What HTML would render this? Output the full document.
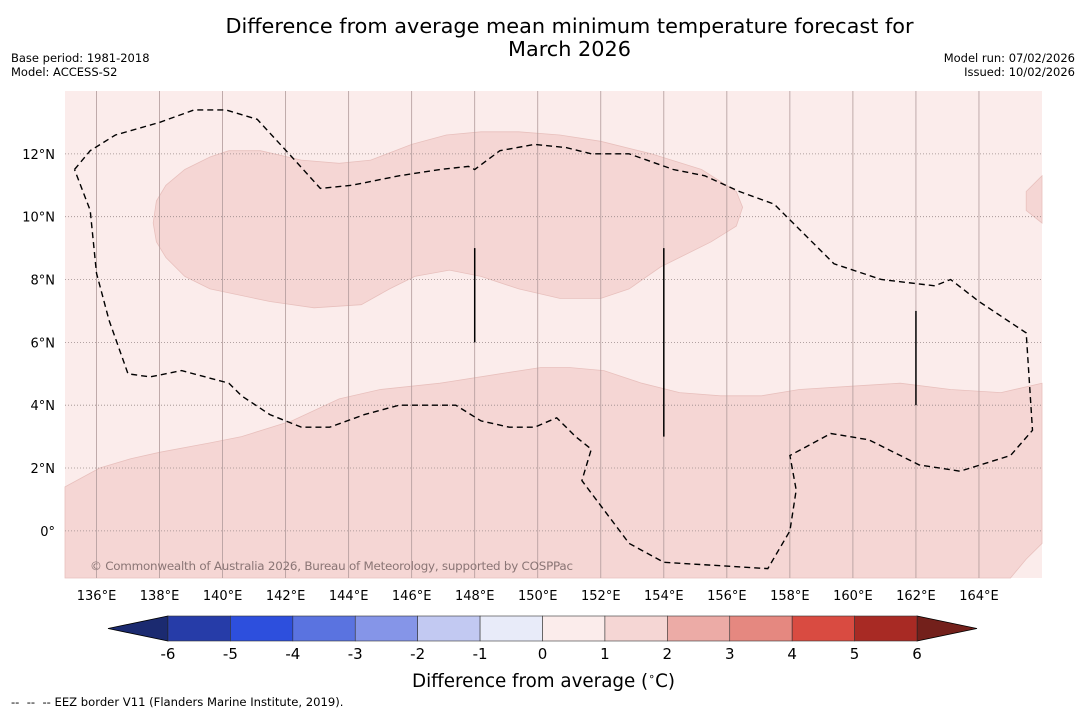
<!DOCTYPE html>
<html><head><meta charset="utf-8"><style>
body{margin:0;background:#fff;width:1085px;height:713px;overflow:hidden;font-family:"DejaVu Sans","Liberation Sans",sans-serif}
svg text{font-family:"DejaVu Sans","Liberation Sans",sans-serif}
</style></head><body>
<svg id="c" width="1085" height="713"></svg>
<script>
const lonTicks=[136,138,140,142,144,146,148,150,152,154,156,158,160,162,164];
const latTicks=[0,2,4,6,8,10,12];
const cbLevels=[-6,-5,-4,-3,-2,-1,0,1,2,3,4,5,6];
const cbColors=["#263ca8","#2d4fdd","#5a73e0","#8595e8","#c2c9f2","#e8ebf9","#fbeceb","#f5d6d4","#ecaba6","#e58880","#d94b41","#a82a24"];
const upperBlob=[[137.9,10.5],[138.2,11.0],[138.8,11.5],[139.6,11.9],[140.2,12.1],[141.2,12.1],[142.5,11.8],[143.7,11.7],[144.7,11.8],[146.0,12.3],[147.1,12.6],[148.2,12.7],[149.4,12.7],[150.7,12.6],[152.0,12.4],[153.6,12.0],[155.2,11.5],[156.3,10.8],[156.5,10.3],[156.3,9.7],[155.5,9.2],[153.9,8.4],[152.9,7.7],[152.0,7.4],[150.7,7.4],[149.4,7.7],[148.2,8.1],[147.2,8.3],[146.1,8.1],[145.3,7.7],[144.4,7.2],[142.9,7.1],[141.5,7.3],[139.6,7.7],[138.8,8.1],[138.2,8.7],[137.9,9.2],[137.8,9.8]];
const lowerRegion=[[135.0,1.4],[136.1,2.0],[137.1,2.3],[138.0,2.5],[139.6,2.8],[140.6,3.0],[142.2,3.5],[143.7,4.2],[145.0,4.5],[146.9,4.7],[148.8,5.0],[150.1,5.2],[151.0,5.2],[152.1,5.1],[153.3,4.7],[154.5,4.4],[155.8,4.3],[157.1,4.3],[158.3,4.5],[159.9,4.6],[161.5,4.7],[163.1,4.5],[164.7,4.4],[166,4.7],[166,-0.4],[165.5,-0.9],[165.0,-1.5],[135,-1.5]];
const rightBlob=[[166,11.3],[165.5,10.8],[165.5,10.2],[166,9.8]];
const eez=[[135.3,11.5],[135.8,12.1],[136.6,12.6],[138.0,13.0],[139.1,13.4],[140.1,13.4],[141.1,13.1],[142.2,11.9],[143.1,10.9],[144.1,11.0],[145.6,11.3],[146.9,11.5],[147.8,11.6],[148.0,11.5],[148.8,12.1],[149.9,12.3],[150.9,12.2],[151.7,12.0],[152.9,12.0],[154.3,11.5],[155.3,11.3],[156.4,10.8],[157.5,10.4],[158.3,9.6],[159.4,8.5],[160.9,8.0],[162.6,7.8],[163.1,8.0],[164.0,7.3],[165.5,6.3],[165.7,3.2],[165.0,2.4],[163.4,1.9],[162.1,2.1],[160.9,2.7],[160.5,2.9],[159.3,3.1],[158.0,2.4],[158.2,1.3],[158.0,0.0],[157.3,-1.2],[154.0,-1.0],[152.9,-0.4],[151.4,1.6],[151.7,2.6],[151.2,3.0],[150.6,3.6],[149.9,3.3],[149.1,3.3],[148.2,3.5],[147.4,4.0],[145.6,4.0],[144.5,3.7],[143.4,3.3],[142.5,3.3],[141.5,3.7],[140.6,4.3],[140.2,4.7],[138.7,5.1],[137.7,4.9],[137.0,5.0],[136.4,6.7],[136.0,8.2],[135.8,10.2],[135.3,11.5]];
const boundaries=[[148,6,9],[154,3,9],[162,4,7]];

const svg=document.getElementById('c');const NS='http://www.w3.org/2000/svg';
function mk(t,a,p){const e=document.createElementNS(NS,t);for(const k in a)e.setAttribute(k,a[k]);(p||svg).appendChild(e);return e;}
const X0=65,X1=1042,Y0=91,Y1=578,LON0=135,LON1=166,LAT0=-1.5,LAT1=14;
const x=l=>X0+(l-LON0)/(LON1-LON0)*(X1-X0);
const y=l=>Y1-(l-LAT0)/(LAT1-LAT0)*(Y1-Y0);
const pts=a=>a.map(p=>x(p[0]).toFixed(1)+','+y(p[1]).toFixed(1)).join(' ');
let e;
e=mk('rect',{x:X0,y:Y0,width:X1-X0,height:Y1-Y0,fill:cbColors[6]});

[[upperBlob,'anomaly-1-2-north'],[lowerRegion,'anomaly-1-2-south'],[rightBlob,'anomaly-1-2-east']].forEach(([d,n])=>{
 const p=mk('polygon',{points:pts(d),fill:cbColors[7],stroke:'#e8c0bd','stroke-width':0.8});
 
 
});
lonTicks.forEach(l=>{
 const g=mk('line',{x1:x(l),x2:x(l),y1:Y0,y2:Y1,stroke:'#b09a9a','stroke-width':0.8});
 
 
 const t=mk('text',{x:x(l),y:600,'font-size':13,'text-anchor':'middle',fill:'#000'});t.textContent=l+'°E';
 
 
});
latTicks.forEach(l=>{
 const g=mk('line',{x1:X0,x2:X1,y1:y(l),y2:y(l),stroke:'#9a8a8a','stroke-width':0.8,'stroke-dasharray':'1,2'});
 
 
 const t=mk('text',{x:55,y:y(l)+5,'font-size':13,'text-anchor':'end',fill:'#000'});t.textContent=l===0?'0°':l+'°N';
 
 
});
e=mk('polyline',{points:pts(eez),fill:'none',stroke:'#000','stroke-width':1.4,'stroke-dasharray':'6,4'});

boundaries.forEach(b=>{
 const l=mk('line',{x1:x(b[0]),x2:x(b[0]),y1:y(b[1]),y2:y(b[2]),stroke:'#000','stroke-width':1.5});
 
 
});
e=mk('text',{x:90,y:570,'font-size':11.9,fill:'#8a7575',textLength:483});e.textContent='© Commonwealth of Australia 2026, Bureau of Meteorology, supported by COSPPac';

const CB0=168,CB1=917,CBY=616,CBH=25;
const cx=v=>CB0+(v-cbLevels[0])/(cbLevels[cbLevels.length-1]-cbLevels[0])*(CB1-CB0);
e=mk('polygon',{points:`${CB0},${CBY} ${CB0},${CBY+CBH} 108,${CBY+CBH/2}`,fill:'#1b2a70',stroke:'#000','stroke-width':0.8});

e=mk('polygon',{points:`${CB1},${CBY} ${CB1},${CBY+CBH} 977,${CBY+CBH/2}`,fill:'#73201b',stroke:'#000','stroke-width':0.8});

cbColors.forEach((c,i)=>{
 const r=mk('rect',{x:cx(cbLevels[i]),y:CBY,width:cx(cbLevels[i+1])-cx(cbLevels[i]),height:CBH,fill:c,stroke:'#333','stroke-width':0.6});
 
 
});
cbLevels.forEach(v=>{
 const t=mk('text',{x:cx(v),y:659,'font-size':15,'text-anchor':'middle',fill:'#000'});t.textContent=v;
 
 
});
</script>
<div style="position:absolute;left:0;width:1139px;top:15px;text-align:center;font-size:20.8px;line-height:23px">Difference from average mean minimum temperature forecast for<br>March 2026</div>
<div style="position:absolute;left:11px;top:51px;font-size:11.5px;line-height:14px">Base period: 1981-2018<br>Model: ACCESS-S2</div>
<div style="position:absolute;right:10px;top:51px;font-size:11.5px;line-height:14px;text-align:right">Model run: 07/02/2026<br>Issued: 10/02/2026</div>
<div style="position:absolute;left:0;width:1087px;top:670px;text-align:center;font-size:18.3px">Difference from average (<sup style="font-size:11px">∘</sup>C)</div>
<div style="position:absolute;left:11px;top:695px;font-size:11.6px">-- &nbsp;-- &nbsp;-- EEZ border V11 (Flanders Marine Institute, 2019).</div>
</body></html>
